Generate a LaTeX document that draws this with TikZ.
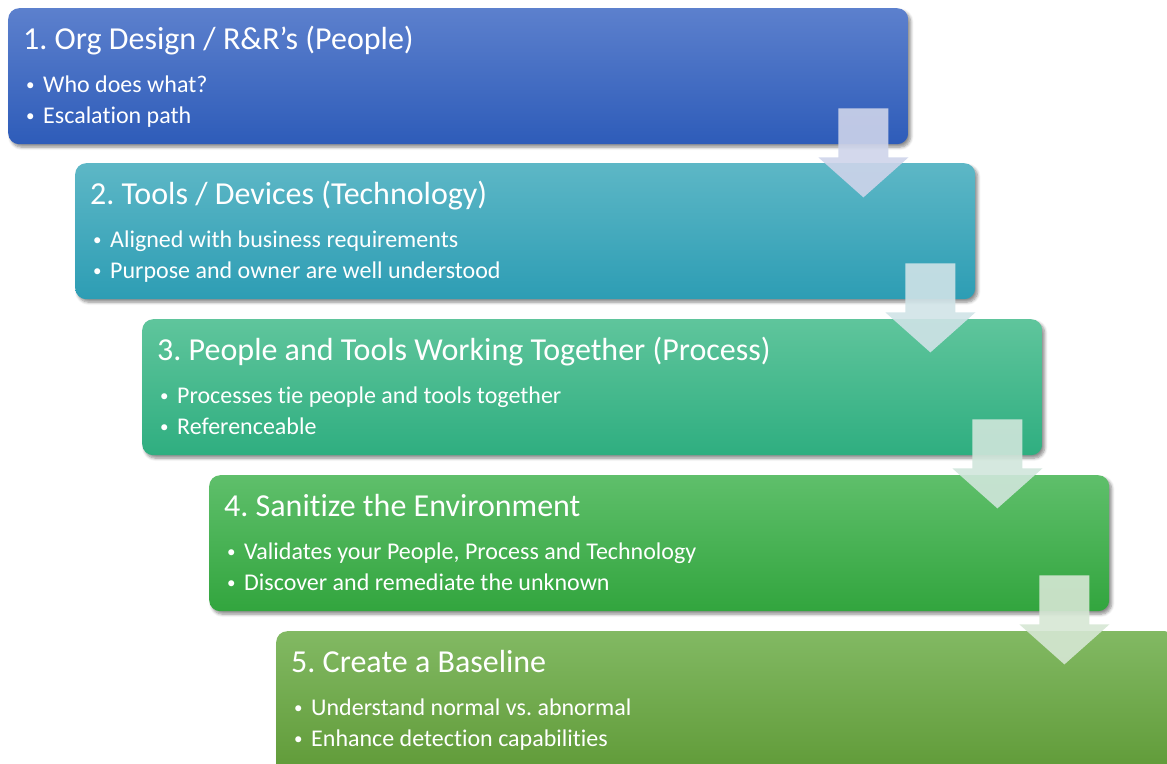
\documentclass[tikz,border=0pt]{standalone}
\usepackage{fontspec}
\setmainfont{Carlito}[Ligatures=NoCommon]
\usetikzlibrary{calc,shadows.blur}

% Step colours: top / bottom of each gradient, and the tint of the arrow below it
\definecolor{oneTop}{HTML}{5C80CD}
\definecolor{oneBot}{HTML}{2E5CB9}
\definecolor{twoTop}{HTML}{5DB7C6}
\definecolor{twoBot}{HTML}{2D9DB4}
\definecolor{threeTop}{HTML}{5FC59C}
\definecolor{threeBot}{HTML}{2FAE80}
\definecolor{fourTop}{HTML}{5FBF6B}
\definecolor{fourBot}{HTML}{32A53E}
\definecolor{fiveTop}{HTML}{82B963}
\definecolor{fiveBot}{HTML}{66A63A}
\definecolor{arrOne}{HTML}{CED4EA}
\definecolor{arrTwo}{HTML}{D0E3E7}
\definecolor{arrThree}{HTML}{D0E6DB}
\definecolor{arrFour}{HTML}{D6E7D4}

\tikzset{
  stepbox/.style={rounded corners=11pt, minimum width=900pt, minimum height=136pt,
    anchor=north west, inner sep=0pt, draw=none,
    blur shadow={shadow xshift=2.5pt, shadow yshift=-3pt, shadow blur steps=6,
      shadow blur radius=3pt, shadow opacity=45}},
  headline/.style={anchor=base west, inner sep=0pt, text=white, font=\fontsize{32}{38}\selectfont},
  point/.style={anchor=base west, inner sep=0pt, text=white, font=\fontsize{24}{29}\selectfont},
  dot/.style={anchor=base west, inner sep=0pt, text=white, font=\fontsize{17}{20}\selectfont},
  blockarrow/.style={draw=none, fill opacity=0.9},
  pics/downarrow/.style={code={
    \fill[blockarrow, fill=#1] (-25,0) -- (25,0) -- (25,49) -- (45,49) -- (0,89)
      -- (-45,49) -- (-25,49) -- cycle;}}
}

\begin{document}
\frenchspacing
\begin{tikzpicture}[x=1pt, y=-1pt]
\useasboundingbox (0,0) rectangle (1167,763);
\clip (0,0) rectangle (1167,763);

% the five stepped boxes
\node[stepbox, top color=oneTop, bottom color=oneBot] (b1) at (8,8) {};
\node[stepbox, top color=twoTop, bottom color=twoBot] (b2) at (75,163) {};
\node[stepbox, top color=threeTop, bottom color=threeBot] (b3) at (142,319) {};
\node[stepbox, top color=fourTop, bottom color=fourBot] (b4) at (209,475) {};
\node[stepbox, minimum height=150pt, top color=fiveTop, bottom color=fiveBot!92!black] (b5) at (276,631) {};

% headings and bullet points
\node[headline] (t1) at ($(b1.north west)+(15,41)$) {1. Org Design / R\&R’s (People)};
\node[dot] (d1a) at ($(b1.north west)+(18,82)$) {•};
\node[point] (p1a) at ($(b1.north west)+(35,84)$) {Who does what?};
\node[dot] (d1b) at ($(b1.north west)+(18,113)$) {•};
\node[point] (p1b) at ($(b1.north west)+(35,115)$) {Escalation path};

\node[headline] (t2) at ($(b2.north west)+(15,41)$) {2. Tools / Devices (Technology)};
\node[dot] (d2a) at ($(b2.north west)+(18,82)$) {•};
\node[point] (p2a) at ($(b2.north west)+(35,84)$) {Aligned with business requirements};
\node[dot] (d2b) at ($(b2.north west)+(18,113)$) {•};
\node[point] (p2b) at ($(b2.north west)+(35,115)$) {Purpose and owner are well understood};

\node[headline] (t3) at ($(b3.north west)+(15,41)$) {3. People and Tools Working Together (Process)};
\node[dot] (d3a) at ($(b3.north west)+(18,82)$) {•};
\node[point] (p3a) at ($(b3.north west)+(35,84)$) {Processes tie people and tools together};
\node[dot] (d3b) at ($(b3.north west)+(18,113)$) {•};
\node[point] (p3b) at ($(b3.north west)+(35,115)$) {Referenceable};

\node[headline] (t4) at ($(b4.north west)+(15,41)$) {4. Sanitize the Environment};
\node[dot] (d4a) at ($(b4.north west)+(18,82)$) {•};
\node[point] (p4a) at ($(b4.north west)+(35,84)$) {Validates your People, Process and Technology};
\node[dot] (d4b) at ($(b4.north west)+(18,113)$) {•};
\node[point] (p4b) at ($(b4.north west)+(35,115)$) {Discover and remediate the unknown};

\node[headline] (t5) at ($(b5.north west)+(15,41)$) {5. Create a Baseline};
\node[dot] (d5a) at ($(b5.north west)+(18,82)$) {•};
\node[point] (p5a) at ($(b5.north west)+(35,84)$) {Understand normal vs. abnormal};
\node[dot] (d5b) at ($(b5.north west)+(18,113)$) {•};
\node[point] (p5b) at ($(b5.north west)+(35,115)$) {Enhance detection capabilities};

% block arrows leading from each step to the next
\pic at ($(b1.south east)+(-45,-36)$) {downarrow=arrOne};
\pic at ($(b2.south east)+(-45,-36)$) {downarrow=arrTwo};
\pic at ($(b3.south east)+(-45,-36)$) {downarrow=arrThree};
\pic at ($(b4.south east)+(-45,-36)$) {downarrow=arrFour};
\end{tikzpicture}
\end{document}
